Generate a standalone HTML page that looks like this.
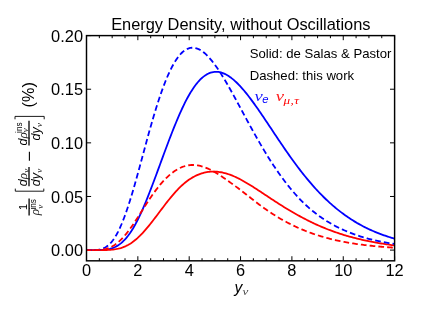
<!DOCTYPE html><html><head><meta charset="utf-8"><style>html,body{margin:0;padding:0;background:#fff}svg{display:block;will-change:transform}text{font-family:"Liberation Sans",sans-serif;fill:#000}.m{font-family:"Liberation Serif",serif;font-style:italic}.i{font-style:italic}</style></head><body>
<svg width="421" height="316" viewBox="0 0 421 316">
<rect width="421" height="316" fill="#fff"/>
<clipPath id="c"><rect x="86.50" y="35.60" width="308.10" height="225.22"/></clipPath>
<path d="M86.50 260.82v-4.60M86.50 35.60v4.60M99.34 260.82v-2.60M99.34 35.60v2.60M112.17 260.82v-2.60M112.17 35.60v2.60M125.01 260.82v-2.60M125.01 35.60v2.60M137.85 260.82v-4.60M137.85 35.60v4.60M150.69 260.82v-2.60M150.69 35.60v2.60M163.53 260.82v-2.60M163.53 35.60v2.60M176.36 260.82v-2.60M176.36 35.60v2.60M189.20 260.82v-4.60M189.20 35.60v4.60M202.04 260.82v-2.60M202.04 35.60v2.60M214.88 260.82v-2.60M214.88 35.60v2.60M227.71 260.82v-2.60M227.71 35.60v2.60M240.55 260.82v-4.60M240.55 35.60v4.60M253.39 260.82v-2.60M253.39 35.60v2.60M266.23 260.82v-2.60M266.23 35.60v2.60M279.06 260.82v-2.60M279.06 35.60v2.60M291.90 260.82v-4.60M291.90 35.60v4.60M304.74 260.82v-2.60M304.74 35.60v2.60M317.58 260.82v-2.60M317.58 35.60v2.60M330.41 260.82v-2.60M330.41 35.60v2.60M343.25 260.82v-4.60M343.25 35.60v4.60M356.09 260.82v-2.60M356.09 35.60v2.60M368.93 260.82v-2.60M368.93 35.60v2.60M381.76 260.82v-2.60M381.76 35.60v2.60M394.60 260.82v-4.60M394.60 35.60v4.60M86.50 250.10h4.60M394.60 250.10h-4.60M86.50 196.47h4.60M394.60 196.47h-4.60M86.50 142.85h4.60M394.60 142.85h-4.60M86.50 89.22h4.60M394.60 89.22h-4.60M86.50 35.60h4.60M394.60 35.60h-4.60" stroke="#000" stroke-width="1.0" fill="none"/>
<g clip-path="url(#c)" fill="none" stroke-width="1.80" stroke-linejoin="round">
<path d="M85.50 250.10 L86.78 250.10 L88.07 250.10 L89.35 250.10 L90.64 250.10 L91.92 250.10 L93.20 250.10 L94.49 250.09 L95.77 250.09 L97.05 250.07 L98.34 250.05 L99.62 250.02 L100.91 249.97 L102.19 249.91 L103.47 249.82 L104.76 249.70 L106.04 249.55 L107.32 249.36 L108.61 249.12 L109.89 248.83 L111.17 248.48 L112.46 248.07 L113.74 247.59 L115.03 247.02 L116.31 246.38 L117.59 245.64 L118.88 244.82 L120.16 243.89 L121.45 242.86 L122.73 241.72 L124.01 240.47 L125.30 239.10 L126.58 237.62 L127.86 236.03 L129.15 234.31 L130.43 232.47 L131.72 230.52 L133.00 228.44 L134.28 226.25 L135.57 223.94 L136.85 221.52 L138.13 218.99 L139.42 216.35 L140.70 213.61 L141.99 210.78 L143.27 207.85 L144.55 204.83 L145.84 201.73 L147.12 198.55 L148.40 195.30 L149.69 191.99 L151.00 188.62 L152.31 185.20 L153.63 181.73 L154.94 178.23 L156.26 174.70 L157.57 171.14 L158.88 167.57 L160.20 163.99 L161.51 160.41 L162.82 156.83 L164.14 153.27 L165.45 149.72 L166.77 146.20 L168.08 142.71 L169.39 139.26 L170.71 135.85 L172.02 132.49 L173.34 129.18 L174.65 125.94 L175.96 122.76 L177.25 119.65 L178.53 116.61 L179.81 113.66 L181.10 110.78 L182.38 108.00 L183.66 105.30 L184.95 102.69 L186.23 100.18 L187.52 97.77 L188.80 95.46 L190.08 93.26 L191.37 91.15 L192.65 89.16 L193.94 87.27 L195.22 85.49 L196.50 83.82 L197.79 82.26 L199.07 80.81 L200.35 79.47 L201.64 78.24 L202.92 77.12 L204.21 76.12 L205.49 75.22 L206.77 74.42 L208.06 73.74 L209.34 73.16 L210.62 72.69 L211.91 72.32 L213.19 72.05 L214.47 71.88 L215.76 71.81 L217.04 71.84 L218.33 71.96 L219.61 72.17 L220.89 72.47 L222.18 72.86 L223.46 73.34 L224.75 73.90 L226.03 74.54 L227.31 75.26 L228.60 76.05 L229.88 76.92 L231.16 77.85 L232.45 78.86 L233.73 79.93 L235.02 81.06 L236.30 82.26 L237.58 83.51 L238.87 84.81 L240.15 86.17 L241.43 87.58 L242.72 89.04 L244.00 90.54 L245.28 92.08 L246.57 93.67 L247.85 95.29 L249.14 96.94 L250.42 98.63 L251.70 100.35 L252.99 102.10 L254.27 103.87 L255.56 105.67 L256.84 107.49 L258.12 109.33 L259.41 111.18 L260.69 113.05 L261.97 114.94 L263.26 116.84 L264.54 118.74 L265.83 120.66 L267.11 122.58 L268.39 124.51 L269.68 126.44 L270.96 128.37 L272.24 130.31 L273.53 132.24 L274.81 134.17 L276.10 136.09 L277.38 138.01 L278.66 139.93 L279.95 141.83 L281.23 143.73 L282.51 145.62 L283.80 147.50 L285.08 149.37 L286.37 151.22 L287.65 153.06 L288.93 154.89 L290.22 156.70 L291.50 158.50 L292.78 160.28 L294.07 162.04 L295.35 163.78 L296.64 165.51 L297.92 167.22 L299.20 168.91 L300.49 170.58 L301.77 172.23 L303.05 173.86 L304.34 175.47 L305.62 177.06 L306.91 178.63 L308.19 180.17 L309.47 181.70 L310.76 183.20 L312.04 184.68 L313.32 186.14 L314.61 187.57 L315.89 188.99 L317.18 190.38 L318.46 191.75 L319.74 193.09 L321.03 194.42 L322.31 195.72 L323.59 197.00 L324.88 198.25 L326.16 199.49 L327.45 200.70 L328.73 201.89 L330.01 203.05 L331.30 204.20 L332.58 205.32 L333.86 206.43 L335.15 207.51 L336.43 208.57 L337.72 209.61 L339.00 210.63 L340.28 211.62 L341.57 212.60 L342.85 213.56 L344.13 214.50 L345.42 215.43 L346.70 216.33 L347.99 217.22 L349.27 218.08 L350.55 218.93 L351.84 219.76 L353.12 220.57 L354.40 221.37 L355.69 222.14 L356.97 222.90 L358.26 223.64 L359.54 224.37 L360.82 225.07 L362.11 225.77 L363.39 226.44 L364.67 227.10 L365.96 227.74 L367.24 228.37 L368.53 228.99 L369.81 229.59 L371.09 230.17 L372.38 230.74 L373.66 231.30 L374.94 231.84 L376.23 232.37 L377.51 232.89 L378.80 233.39 L380.08 233.88 L381.36 234.36 L382.65 234.83 L383.93 235.28 L385.21 235.72 L386.50 236.16 L387.78 236.58 L389.07 236.99 L390.35 237.38 L391.63 237.77 L392.92 238.15 L394.20 238.52" stroke="#0000ff"/>
<path d="M86.10 250.10 L87.38 250.10 L88.67 250.10 L89.95 250.10 L91.23 250.10 L92.52 250.10 L93.80 250.10 L95.09 250.10 L96.37 250.10 L97.65 250.10 L98.94 250.10 L100.22 250.09 L101.50 250.08 L102.79 250.07 L104.07 250.05 L105.36 250.03 L106.64 249.99 L107.92 249.94 L109.21 249.88 L110.49 249.79 L111.77 249.69 L113.06 249.56 L114.34 249.39 L115.63 249.20 L116.91 248.97 L118.19 248.70 L119.48 248.39 L120.76 248.03 L122.05 247.61 L123.33 247.15 L124.61 246.63 L125.90 246.06 L127.18 245.42 L128.46 244.73 L129.75 243.97 L131.03 243.15 L132.31 242.27 L133.60 241.32 L134.88 240.31 L136.17 239.25 L137.45 238.12 L138.73 236.93 L140.02 235.69 L141.30 234.39 L142.59 233.04 L143.87 231.64 L145.15 230.19 L146.44 228.70 L147.72 227.17 L149.00 225.61 L150.29 224.01 L151.57 222.39 L152.85 220.74 L154.14 219.07 L155.42 217.39 L156.71 215.69 L157.99 213.99 L159.27 212.28 L160.56 210.57 L161.84 208.87 L163.12 207.17 L164.41 205.49 L165.69 203.82 L166.98 202.17 L168.26 200.54 L169.54 198.94 L170.83 197.37 L172.11 195.84 L173.40 194.33 L174.68 192.87 L175.96 191.45 L177.25 190.07 L178.53 188.74 L179.81 187.45 L181.10 186.21 L182.38 185.02 L183.66 183.88 L184.95 182.80 L186.23 181.76 L187.52 180.78 L188.80 179.85 L190.08 178.98 L191.37 178.15 L192.65 177.38 L193.94 176.67 L195.22 176.00 L196.50 175.38 L197.79 174.82 L199.07 174.30 L200.35 173.83 L201.64 173.41 L202.92 173.03 L204.21 172.70 L205.49 172.41 L206.77 172.17 L208.06 171.97 L209.34 171.82 L210.62 171.70 L211.91 171.63 L213.19 171.60 L214.47 171.61 L215.76 171.66 L217.04 171.75 L218.33 171.88 L219.61 172.04 L220.89 172.25 L222.18 172.49 L223.46 172.77 L224.75 173.09 L226.03 173.44 L227.31 173.82 L228.60 174.24 L229.88 174.69 L231.16 175.18 L232.45 175.69 L233.73 176.23 L235.02 176.80 L236.30 177.39 L237.58 178.01 L238.87 178.65 L240.15 179.31 L241.43 180.00 L242.72 180.70 L244.00 181.42 L245.28 182.16 L246.57 182.91 L247.85 183.68 L249.14 184.46 L250.42 185.25 L251.70 186.05 L252.99 186.86 L254.27 187.67 L255.56 188.50 L256.84 189.33 L258.12 190.17 L259.41 191.01 L260.69 191.85 L261.97 192.70 L263.26 193.55 L264.54 194.40 L265.83 195.25 L267.11 196.10 L268.39 196.95 L269.68 197.80 L270.96 198.65 L272.24 199.49 L273.53 200.33 L274.81 201.17 L276.10 202.01 L277.38 202.83 L278.66 203.66 L279.95 204.48 L281.23 205.29 L282.51 206.10 L283.80 206.90 L285.08 207.69 L286.37 208.48 L287.65 209.26 L288.93 210.03 L290.22 210.79 L291.50 211.55 L292.78 212.30 L294.07 213.04 L295.35 213.77 L296.64 214.49 L297.92 215.20 L299.20 215.90 L300.49 216.60 L301.77 217.28 L303.05 217.96 L304.34 218.63 L305.62 219.30 L306.91 219.96 L308.19 220.61 L309.47 221.25 L310.76 221.88 L312.04 222.50 L313.32 223.11 L314.61 223.72 L315.89 224.31 L317.18 224.89 L318.46 225.47 L319.74 226.03 L321.03 226.58 L322.31 227.13 L323.59 227.67 L324.88 228.19 L326.16 228.71 L327.45 229.22 L328.73 229.72 L330.01 230.21 L331.30 230.69 L332.58 231.16 L333.86 231.62 L335.15 232.07 L336.43 232.52 L337.72 232.96 L339.00 233.39 L340.28 233.81 L341.57 234.22 L342.85 234.62 L344.13 235.02 L345.42 235.40 L346.70 235.78 L347.99 236.16 L349.27 236.52 L350.55 236.88 L351.84 237.23 L353.12 237.57 L354.40 237.91 L355.69 238.23 L356.97 238.56 L358.26 238.87 L359.54 239.18 L360.82 239.48 L362.11 239.77 L363.39 240.06 L364.67 240.35 L365.96 240.62 L367.24 240.89 L368.53 241.16 L369.81 241.41 L371.09 241.67 L372.38 241.91 L373.66 242.16 L374.94 242.39 L376.23 242.62 L377.51 242.85 L378.80 243.07 L380.08 243.29 L381.36 243.50 L382.65 243.70 L383.93 243.90 L385.21 244.10 L386.50 244.29 L387.78 244.48 L389.07 244.66 L390.35 244.84 L391.63 245.02 L392.92 245.19 L394.20 245.36" stroke="#ff0000"/>
<path d="M85.80 250.10 L87.08 250.10 L88.37 250.10 L89.65 250.10 L90.94 250.09 L92.22 250.08 L93.50 250.06 L94.79 250.01 L96.07 249.94 L97.35 249.82 L98.64 249.66 L99.92 249.42 L101.20 249.11 L102.49 248.70 L103.77 248.18 L105.06 247.54 L106.34 246.76 L107.62 245.84 L108.91 244.75 L110.19 243.50 L111.47 242.08 L112.76 240.46 L114.04 238.66 L115.33 236.66 L116.61 234.47 L117.89 232.08 L119.18 229.50 L120.46 226.72 L121.75 223.75 L123.03 220.59 L124.31 217.25 L125.60 213.74 L126.88 210.07 L128.16 206.24 L129.45 202.27 L130.73 198.17 L132.01 193.94 L133.30 189.60 L134.58 185.16 L135.87 180.64 L137.15 176.05 L138.43 171.40 L139.72 166.70 L141.00 161.97 L142.28 157.22 L143.57 152.46 L144.85 147.70 L146.14 142.97 L147.42 138.26 L148.70 133.60 L149.99 128.99 L151.29 124.44 L152.58 119.96 L153.88 115.56 L155.18 111.26 L156.48 107.06 L157.78 102.96 L159.08 98.98 L160.38 95.13 L161.68 91.40 L162.97 87.81 L164.27 84.35 L165.57 81.04 L166.87 77.88 L168.17 74.87 L169.47 72.01 L170.77 69.32 L172.07 66.78 L173.37 64.40 L174.66 62.18 L175.96 60.12 L177.25 58.23 L178.53 56.49 L179.81 54.92 L181.10 53.51 L182.38 52.26 L183.66 51.17 L184.95 50.23 L186.23 49.44 L187.52 48.80 L188.80 48.32 L190.08 47.97 L191.37 47.77 L192.65 47.71 L193.94 47.79 L195.22 47.99 L196.50 48.32 L197.79 48.78 L199.07 49.36 L200.35 50.05 L201.64 50.86 L202.92 51.78 L204.21 52.80 L205.49 53.91 L206.77 55.13 L208.06 56.44 L209.34 57.83 L210.62 59.31 L211.91 60.86 L213.19 62.49 L214.47 64.20 L215.76 65.96 L217.04 67.80 L218.33 69.69 L219.61 71.63 L220.89 73.63 L222.18 75.68 L223.46 77.77 L224.75 79.90 L226.03 82.07 L227.31 84.27 L228.60 86.50 L229.88 88.76 L231.16 91.04 L232.45 93.35 L233.73 95.67 L235.02 98.01 L236.30 100.37 L237.58 102.73 L238.87 105.10 L240.15 107.48 L241.43 109.86 L242.72 112.24 L244.00 114.62 L245.28 116.99 L246.57 119.36 L247.85 121.73 L249.14 124.08 L250.42 126.43 L251.70 128.76 L252.99 131.08 L254.27 133.38 L255.56 135.67 L256.84 137.94 L258.12 140.19 L259.41 142.42 L260.69 144.63 L261.97 146.82 L263.26 148.99 L264.54 151.13 L265.83 153.25 L267.11 155.34 L268.39 157.41 L269.68 159.45 L270.96 161.46 L272.24 163.45 L273.53 165.40 L274.81 167.33 L276.10 169.24 L277.38 171.11 L278.66 172.95 L279.95 174.77 L281.23 176.55 L282.51 178.31 L283.80 180.03 L285.08 181.73 L286.37 183.39 L287.65 185.03 L288.93 186.64 L290.22 188.21 L291.50 189.76 L292.78 191.28 L294.07 192.77 L295.35 194.23 L296.64 195.66 L297.92 197.06 L299.20 198.43 L300.49 199.78 L301.77 201.09 L303.05 202.38 L304.34 203.64 L305.62 204.85 L306.91 206.03 L308.19 207.19 L309.47 208.32 L310.76 209.42 L312.04 210.50 L313.32 211.55 L314.61 212.57 L315.89 213.58 L317.18 214.55 L318.46 215.51 L319.74 216.44 L321.03 217.35 L322.31 218.23 L323.59 219.10 L324.88 219.94 L326.16 220.76 L327.45 221.56 L328.73 222.34 L330.01 223.10 L331.30 223.83 L332.58 224.55 L333.86 225.25 L335.15 225.93 L336.43 226.60 L337.72 227.24 L339.00 227.87 L340.28 228.48 L341.57 229.07 L342.85 229.65 L344.13 230.23 L345.42 230.80 L346.70 231.36 L347.99 231.90 L349.27 232.43 L350.55 232.94 L351.84 233.43 L353.12 233.92 L354.40 234.39 L355.69 234.84 L356.97 235.29 L358.26 235.72 L359.54 236.14 L360.82 236.55 L362.11 236.94 L363.39 237.33 L364.67 237.70 L365.96 238.06 L367.24 238.41 L368.53 238.76 L369.81 239.09 L371.09 239.41 L372.38 239.72 L373.66 240.03 L374.94 240.32 L376.23 240.61 L377.51 240.88 L378.80 241.15 L380.08 241.41 L381.36 241.67 L382.65 241.91 L383.93 242.15 L385.21 242.38 L386.50 242.60 L387.78 242.82 L389.07 243.03 L390.35 243.24 L391.63 243.43 L392.92 243.62 L394.20 243.81" stroke="#0000ff" stroke-dasharray="5.7 3.1"/>
<path d="M85.50 250.10 L86.78 250.10 L88.07 250.10 L89.35 250.10 L90.64 250.10 L91.92 250.09 L93.20 250.09 L94.49 250.07 L95.77 250.05 L97.05 250.00 L98.34 249.94 L99.62 249.85 L100.91 249.73 L102.19 249.57 L103.47 249.37 L104.76 249.12 L106.04 248.80 L107.32 248.43 L108.61 247.99 L109.89 247.48 L111.17 246.89 L112.46 246.22 L113.74 245.47 L115.03 244.64 L116.31 243.72 L117.59 242.72 L118.88 241.63 L120.16 240.46 L121.45 239.20 L122.73 237.86 L124.01 236.44 L125.30 234.95 L126.58 233.39 L127.86 231.76 L129.15 230.06 L130.43 228.31 L131.72 226.51 L133.00 224.65 L134.28 222.76 L135.57 220.83 L136.85 218.86 L138.13 216.88 L139.42 214.87 L140.70 212.85 L141.99 210.83 L143.27 208.80 L144.55 206.78 L145.84 204.77 L147.12 202.78 L148.40 200.80 L149.69 198.85 L151.00 196.93 L152.31 195.05 L153.63 193.20 L154.94 191.40 L156.26 189.64 L157.57 187.93 L158.88 186.28 L160.20 184.68 L161.51 183.13 L162.82 181.64 L164.14 180.22 L165.45 178.85 L166.77 177.55 L168.08 176.31 L169.39 175.14 L170.71 174.03 L172.02 172.98 L173.34 172.00 L174.65 171.09 L175.96 170.24 L177.25 169.45 L178.53 168.73 L179.81 168.07 L181.10 167.48 L182.38 166.95 L183.66 166.49 L184.95 166.09 L186.23 165.75 L187.52 165.47 L188.80 165.26 L190.08 165.11 L191.37 165.01 L192.65 164.98 L193.94 165.00 L195.22 165.08 L196.50 165.21 L197.79 165.40 L199.07 165.64 L200.35 165.94 L201.64 166.28 L202.92 166.66 L204.21 167.10 L205.49 167.57 L206.77 168.09 L208.06 168.65 L209.34 169.24 L210.62 169.87 L211.91 170.53 L213.19 171.23 L214.47 171.95 L215.76 172.70 L217.04 173.48 L218.33 174.28 L219.61 175.10 L220.89 175.93 L222.18 176.79 L223.46 177.66 L224.75 178.54 L226.03 179.44 L227.31 180.34 L228.60 181.26 L229.88 182.18 L231.16 183.11 L232.45 184.04 L233.73 184.98 L235.02 185.92 L236.30 186.87 L237.58 187.82 L238.87 188.79 L240.15 189.75 L241.43 190.73 L242.72 191.71 L244.00 192.69 L245.28 193.69 L246.57 194.68 L247.85 195.69 L249.14 196.69 L250.42 197.70 L251.70 198.71 L252.99 199.72 L254.27 200.72 L255.56 201.72 L256.84 202.71 L258.12 203.70 L259.41 204.67 L260.69 205.63 L261.97 206.58 L263.26 207.52 L264.54 208.44 L265.83 209.35 L267.11 210.24 L268.39 211.12 L269.68 211.98 L270.96 212.84 L272.24 213.67 L273.53 214.50 L274.81 215.30 L276.10 216.10 L277.38 216.88 L278.66 217.65 L279.95 218.41 L281.23 219.16 L282.51 219.89 L283.80 220.61 L285.08 221.31 L286.37 222.01 L287.65 222.69 L288.93 223.36 L290.22 224.01 L291.50 224.66 L292.78 225.29 L294.07 225.91 L295.35 226.52 L296.64 227.11 L297.92 227.70 L299.20 228.27 L300.49 228.83 L301.77 229.38 L303.05 229.92 L304.34 230.44 L305.62 230.96 L306.91 231.46 L308.19 231.95 L309.47 232.43 L310.76 232.90 L312.04 233.36 L313.32 233.81 L314.61 234.25 L315.89 234.68 L317.18 235.10 L318.46 235.51 L319.74 235.91 L321.03 236.30 L322.31 236.68 L323.59 237.06 L324.88 237.42 L326.16 237.77 L327.45 238.12 L328.73 238.46 L330.01 238.79 L331.30 239.11 L332.58 239.42 L333.86 239.72 L335.15 240.02 L336.43 240.31 L337.72 240.59 L339.00 240.87 L340.28 241.13 L341.57 241.39 L342.85 241.65 L344.13 241.89 L345.42 242.13 L346.70 242.37 L347.99 242.60 L349.27 242.82 L350.55 243.03 L351.84 243.24 L353.12 243.45 L354.40 243.64 L355.69 243.84 L356.97 244.03 L358.26 244.21 L359.54 244.39 L360.82 244.56 L362.11 244.73 L363.39 244.89 L364.67 245.05 L365.96 245.20 L367.24 245.35 L368.53 245.50 L369.81 245.64 L371.09 245.77 L372.38 245.91 L373.66 246.04 L374.94 246.16 L376.23 246.28 L377.51 246.40 L378.80 246.52 L380.08 246.63 L381.36 246.74 L382.65 246.84 L383.93 246.94 L385.21 247.04 L386.50 247.14 L387.78 247.23 L389.07 247.32 L390.35 247.41 L391.63 247.50 L392.92 247.58 L394.20 247.66" stroke="#ff0000" stroke-dasharray="5.7 3.1"/>
</g>
<rect x="86.50" y="35.60" width="308.10" height="225.22" fill="none" stroke="#000" stroke-width="1.45"/>
<text x="240.8" y="30" font-size="16.4" text-anchor="middle">Energy Density, without Oscillations</text>
<text x="86.50" y="275.7" font-size="16.4" text-anchor="middle">0</text>
<text x="137.85" y="275.7" font-size="16.4" text-anchor="middle">2</text>
<text x="189.20" y="275.7" font-size="16.4" text-anchor="middle">4</text>
<text x="240.55" y="275.7" font-size="16.4" text-anchor="middle">6</text>
<text x="291.90" y="275.7" font-size="16.4" text-anchor="middle">8</text>
<text x="343.25" y="275.7" font-size="16.4" text-anchor="middle">10</text>
<text x="394.60" y="275.7" font-size="16.4" text-anchor="middle">12</text>
<text x="83.0" y="256.20" font-size="16.4" text-anchor="end">0.00</text>
<text x="83.0" y="202.57" font-size="16.4" text-anchor="end">0.05</text>
<text x="83.0" y="148.95" font-size="16.4" text-anchor="end">0.10</text>
<text x="83.0" y="95.32" font-size="16.4" text-anchor="end">0.15</text>
<text x="83.0" y="41.70" font-size="16.4" text-anchor="end">0.20</text>
<text x="249.7" y="57.8" font-size="13.15">Solid: de Salas &amp; Pastor</text>
<text x="249.7" y="79.9" font-size="13.15">Dashed: this work</text>
<text transform="translate(254.60,100.60) scale(1.200,1.000)" font-size="15.50" class="m" fill-opacity="0.9" style="fill:#0000ff">ν</text>
<text x="262.3" y="102.8" font-size="11.3" class="i" style="fill:#0000ff">e</text>
<text transform="translate(275.70,100.60) scale(1.200,1.000)" font-size="15.50" class="m" fill-opacity="0.9" style="fill:#ff0000">ν</text>
<text transform="translate(283.6,104.0) scale(1.25,0.95)" font-size="10.5" class="m" letter-spacing="0.3" style="fill:#ff0000">μ,τ</text>
<text x="234.5" y="292.6" font-size="15.6" class="i">y</text>
<text transform="translate(242.50,294.90) scale(1.250,1.000)" font-size="10.50" class="m" fill-opacity="0.9" style="fill:#333">ν</text>
<g transform="translate(34,0) rotate(-90)">
<path d="M-215.50 -4.90L-198.50 -4.90" stroke="#000" stroke-width="1.30" fill="none"/>
<text x="-207.00" y="-7.20" font-size="10.8" text-anchor="middle">1</text>
<text x="-215.20" y="5.00" font-size="13.2" class="m" style="fill:#222">ρ</text>
<text x="-209.60" y="2.30" font-size="8.2">ins</text>
<text x="-208.80" y="8.70" font-size="9.2" class="m" style="fill:#222">ν</text>
<path d="M-188.6 -18.7H-191.2V9.8H-188.6" stroke="#000" stroke-width="0.9" fill="none"/>
<path d="M-186.30 -5.00L-167.10 -5.00" stroke="#000" stroke-width="1.30" fill="none"/>
<text x="-186.20" y="-7.10" font-size="12.6" class="i">d</text>
<text x="-179.20" y="-7.10" font-size="13.2" class="m" style="fill:#222">ρ</text>
<text x="-172.70" y="-5.30" font-size="9.2" class="m" style="fill:#222">ν</text>
<text x="-186.20" y="6.40" font-size="12.6" class="i">d</text>
<text x="-179.20" y="6.40" font-size="12.6" class="i">y</text>
<text x="-172.70" y="8.40" font-size="9.2" class="m" style="fill:#222">ν</text>
<path d="M-160.70 -4.60L-151.70 -4.60" stroke="#000" stroke-width="1.10" fill="none"/>
<path d="M-145.60 -5.00L-120.70 -5.00" stroke="#000" stroke-width="1.30" fill="none"/>
<text x="-145.50" y="-7.10" font-size="12.6" class="i">d</text>
<text x="-138.50" y="-7.10" font-size="13.2" class="m" style="fill:#222">ρ</text>
<text x="-132.90" y="-11.90" font-size="8.2">ins</text>
<text x="-132.20" y="-5.60" font-size="9.2" class="m" style="fill:#222">ν</text>
<text x="-140.50" y="6.40" font-size="12.6" class="i">d</text>
<text x="-133.50" y="6.40" font-size="12.6" class="i">y</text>
<text x="-127.00" y="8.40" font-size="9.2" class="m" style="fill:#222">ν</text>
<path d="M-119.3 -19H-116.4V10.2H-119.3" stroke="#000" stroke-width="0.9" fill="none"/>
<text x="-107.40" y="0.00" font-size="16.2">(%)</text>
</g>
</svg></body></html>
